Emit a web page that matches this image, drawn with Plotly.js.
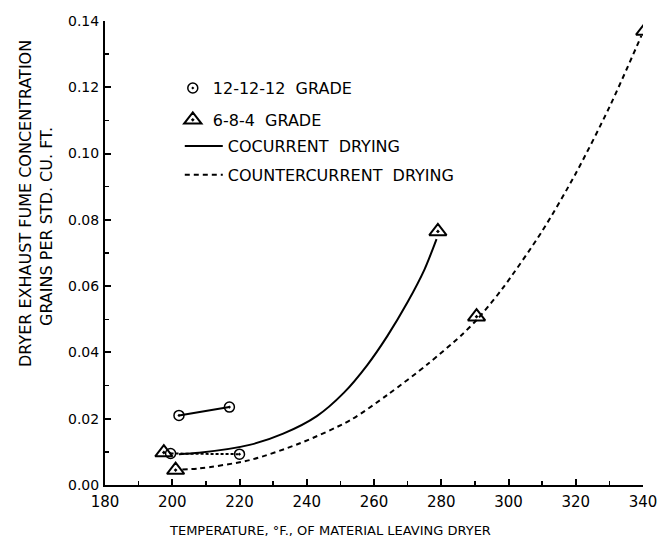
<!DOCTYPE html>
<html>
<head>
<meta charset="utf-8">
<script src="https://cdn.plot.ly/plotly-3.0.1.min.js"></script>
<style>html,body{margin:0;padding:0;background:#fff;}#chart{width:657px;height:544px;}</style>
</head>
<body>
<div id="chart"></div>
<script>
// 12-12-12 grade (circles)
const circCoX = [202, 217];
const circCoY = [0.021, 0.0235];
const circCtX = [199.5, 220];
const circCtY = [0.0095, 0.0093];

// 6-8-4 grade (triangles)
const triCoX = [197.5, 279];
const triCoY = [0.0098, 0.0765];
const triCtX = [201, 290.5, 340.5];
const triCtY = [0.0045, 0.0508, 0.137];

// curves
const coCurveX = [202, 208, 223, 233, 243, 251, 258, 264, 270, 275, 278.6];
const coCurveY = [0.0093, 0.0097, 0.0121, 0.0155, 0.0208, 0.0278, 0.0362, 0.0450, 0.0552, 0.0650, 0.0742];
const ctCurveX = [203, 208, 223, 238, 253, 264, 276, 286, 290.7, 298, 310, 320, 330, 339.5];
const ctCurveY = [0.0047, 0.0050, 0.0075, 0.0126, 0.0196, 0.0272, 0.0365, 0.0452, 0.0500, 0.0590, 0.0766, 0.0940, 0.1140, 0.1355];

const xTicks = [180, 200, 220, 240, 260, 280, 300, 320, 340];
const yTicks = [0, 0.02, 0.04, 0.06, 0.08, 0.10, 0.12, 0.14];
const yTickText = ['0.00', '0.02', '0.04', '0.06', '0.08', '0.10', '0.12', '0.14'];

const legendNames = ['12-12-12  GRADE', '6-8-4  GRADE', 'COCURRENT  DRYING', 'COUNTERCURRENT  DRYING'];

const FONT = 'DejaVu Sans, Arial, sans-serif';
const circMarker = {symbol: 'circle-open-dot', size: 10, color: '#000', line: {width: 1.5, color: '#000'}};
const triMarker = {symbol: 'triangle-up-open-dot', size: 15, color: '#000', line: {width: 2, color: '#000'}};

const traces = [
  {x: coCurveX, y: coCurveY, mode: 'lines', line: {color: '#000', width: 2, shape: 'spline', smoothing: 0.8}, showlegend: false, hoverinfo: 'skip'},
  {x: ctCurveX, y: ctCurveY, mode: 'lines', line: {color: '#000', width: 2, shape: 'spline', smoothing: 0.8, dash: '5px,4px'}, showlegend: false, hoverinfo: 'skip'},
  {x: circCoX, y: circCoY, mode: 'lines+markers', line: {color: '#000', width: 2}, marker: circMarker, showlegend: false},
  {x: circCtX, y: circCtY, mode: 'lines+markers', line: {color: '#000', width: 2, dash: '3px,2px'}, marker: circMarker, showlegend: false},
  {x: triCoX, y: triCoY, mode: 'markers', marker: triMarker, showlegend: false},
  {x: triCtX, y: triCtY, mode: 'markers', marker: triMarker, showlegend: false},
  // legend entries
  {x: [null], y: [null], mode: 'markers', marker: circMarker, name: legendNames[0], legend: 'legend', legendgroup: 'a'},
  {x: [null], y: [null], mode: 'markers', marker: triMarker, name: legendNames[1], legend: 'legend', legendgroup: 'b'},
  {x: [null], y: [null], mode: 'lines', line: {color: '#000', width: 2}, name: legendNames[2], legend: 'legend2', legendgroup: 'c'},
  {x: [null], y: [null], mode: 'lines', line: {color: '#000', width: 2, dash: '5px,4px'}, name: legendNames[3], legend: 'legend2', legendgroup: 'd'}
];

const axisCommon = {
  showgrid: false, zeroline: false, showline: true, linecolor: '#000', linewidth: 2,
  ticks: 'inside', ticklen: 6, tickwidth: 2, tickcolor: '#000',
  tickfont: {family: FONT, size: 14, color: '#000'}, ticklabeloverflow: 'allow'
};

const layout = {
  width: 657, height: 544,
  margin: {l: 105, r: 14, t: 21, b: 59},
  paper_bgcolor: '#fff', plot_bgcolor: '#fff',
  font: {family: FONT, color: '#000'},
  xaxis: Object.assign({}, axisCommon, {
    range: [180, 340], tickmode: 'array', tickvals: xTicks, ticktext: xTicks.map(String),
    minor: {ticks: 'inside', ticklen: 4, tickwidth: 1.5, tickcolor: '#000', dtick: 10, tick0: 180},
    tickfont: {family: FONT, size: 15, color: '#000'}, ticklabelstandoff: 2
  }),
  yaxis: Object.assign({}, axisCommon, {
    range: [0, 0.14], tickmode: 'array', tickvals: yTicks, ticktext: yTickText,
    minor: {ticks: 'inside', ticklen: 4, tickwidth: 1.5, tickcolor: '#000', dtick: 0.01, tick0: 0},
    ticklabelstandoff: 1
  }),
  legend: {x: 0.126, y: 0.892, xanchor: 'left', yanchor: 'top', bgcolor: 'rgba(0,0,0,0)',
    font: {family: FONT, size: 16, color: '#000'}, traceorder: 'grouped', tracegroupgap: 8, itemwidth: 30},
  legend2: {x: 0.139, y: 0.767, xanchor: 'left', yanchor: 'top', bgcolor: 'rgba(0,0,0,0)',
    font: {family: FONT, size: 16, color: '#000'}, traceorder: 'grouped', tracegroupgap: 5, itemwidth: 38},
  annotations: [
    {text: 'TEMPERATURE, °F., OF MATERIAL LEAVING DRYER', xref: 'paper', yref: 'paper',
     x: (330 - 105) / 538, y: (485 - 530) / 464, xanchor: 'center', yanchor: 'middle', showarrow: false,
     font: {family: FONT, size: 13, color: '#000'}},
    {text: 'DRYER EXHAUST FUME CONCENTRATION', xref: 'paper', yref: 'paper', textangle: -90,
     x: (25 - 105) / 538, y: (485 - 204) / 464, xanchor: 'center', yanchor: 'middle', showarrow: false,
     font: {family: FONT, size: 16, color: '#000'}},
    {text: 'GRAINS PER STD. CU. FT.', xref: 'paper', yref: 'paper', textangle: -90,
     x: (46 - 105) / 538, y: (485 - 227) / 464, xanchor: 'center', yanchor: 'middle', showarrow: false,
     font: {family: FONT, size: 16, color: '#000'}}
  ]
};

Plotly.newPlot('chart', traces, layout, {displayModeBar: false, staticPlot: true});
</script>
</body>
</html>
